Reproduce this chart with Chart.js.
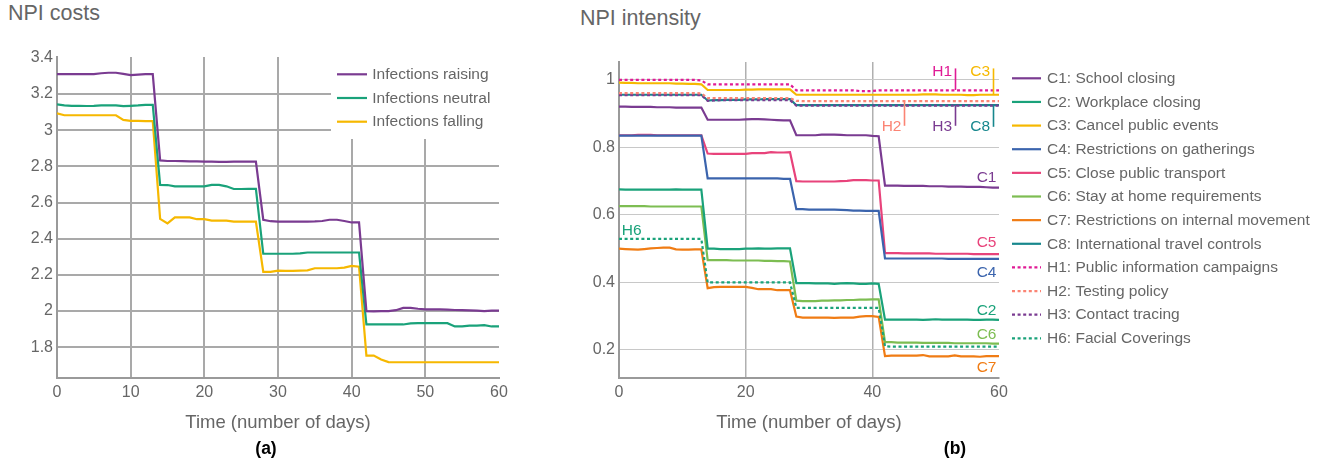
<!DOCTYPE html>
<html><head><meta charset="utf-8">
<script src="https://cdn.jsdelivr.net/npm/chart.js@4.4.0/dist/chart.umd.min.js"></script>
<style>
html,body{margin:0;padding:0;background:#fff;width:1326px;height:474px;overflow:hidden;font-family:Arial,"Liberation Sans",sans-serif}
canvas{position:absolute;top:0}
#costs{left:0}
#intensity{left:560px}
.ttl{position:absolute;font-size:21.5px;line-height:21.5px;color:#666;white-space:nowrap}
.sub{position:absolute;font-size:17.5px;line-height:17.5px;font-weight:bold;color:#000;transform:translateX(-50%)}
</style></head><body>
<div class="ttl" style="left:8px;top:3px">NPI costs</div>
<div class="ttl" style="left:580px;top:8px">NPI intensity</div>
<canvas id="costs" width="560" height="474"></canvas>
<canvas id="intensity" width="766" height="474"></canvas>
<div class="sub" style="left:266px;top:440px">(a)</div>
<div class="sub" style="left:955px;top:440px">(b)</div>
<script>
/* ========== data ========= */
const days = [0,1,2,3,4,5,6,7,8,9,10,11,12,13,14,15,16,17,18,19,20,21,22,23,24,25,26,27,28,29,30,
  31,32,33,34,35,36,37,38,39,40,41,42,43,44,45,46,47,48,49,50,51,52,53,54,55,56,57,58,59,60];
const costTicksX = [0,10,20,30,40,50,60];
const costTicksY = [1.8,2,2.2,2.4,2.6,2.8,3,3.2,3.4];
const intTicksX = [0,20,40,60];
const intTicksY = [0.2,0.4,0.6,0.8,1];

// (a) NPI costs
const costNames = ["Infections raising","Infections neutral","Infections falling"];
const costRaising = [3.31,3.31,3.31,3.31,3.31,3.31,3.315,3.318,3.318,3.312,3.305,3.308,3.31,3.31,
  2.833,2.83,2.83,2.829,2.828,2.828,2.827,2.826,2.825,2.825,2.826,2.826,2.826,2.826,
  2.505,2.497,2.495,2.495,2.495,2.495,2.495,2.496,2.498,2.505,2.505,2.498,2.49,2.49,
  2.0,1.998,2.0,2.0,2.005,2.018,2.018,2.013,2.01,2.009,2.009,2.008,2.006,2.005,2.004,2.003,2.0,2.003,2.003];
const costNeutral = [3.143,3.138,3.135,3.135,3.134,3.135,3.138,3.138,3.138,3.133,3.135,3.137,3.14,3.14,
  2.698,2.697,2.69,2.69,2.69,2.69,2.69,2.698,2.698,2.69,2.675,2.675,2.676,2.676,
  2.317,2.317,2.317,2.317,2.317,2.319,2.324,2.324,2.324,2.324,2.324,2.324,2.324,2.324,
  1.926,1.926,1.926,1.926,1.926,1.926,1.932,1.933,1.933,1.933,1.933,1.933,1.915,1.915,1.92,1.92,1.922,1.915,1.915];
const costFalling = [3.093,3.083,3.083,3.083,3.083,3.083,3.083,3.083,3.083,3.057,3.052,3.052,3.05,3.05,
  2.51,2.485,2.518,2.518,2.518,2.508,2.508,2.5,2.5,2.5,2.495,2.495,2.495,2.495,
  2.217,2.217,2.224,2.222,2.222,2.224,2.225,2.237,2.237,2.237,2.237,2.24,2.25,2.245,
  1.754,1.754,1.732,1.718,1.717,1.717,1.717,1.717,1.717,1.717,1.717,1.717,1.717,1.717,1.717,1.717,1.717,1.717,1.717];

// (b) NPI intensity
const npiNames = ["C1: School closing","C2: Workplace closing","C3: Cancel public events","C4: Restrictions on gatherings",
  "C5: Close public transport","C6: Stay at home requirements","C7: Restrictions on internal movement",
  "C8: International travel controls","H1: Public information campaigns","H2: Testing policy","H3: Contact tracing","H6: Facial Coverings"];
const c1 = [0.921,0.921,0.92,0.92,0.92,0.92,0.919,0.919,0.919,0.918,0.918,0.918,0.918,0.918,
  0.882,0.882,0.882,0.882,0.882,0.882,0.883,0.884,0.884,0.883,0.882,0.881,0.88,0.88,
  0.836,0.836,0.836,0.836,0.838,0.838,0.838,0.837,0.836,0.836,0.836,0.836,0.834,0.833,
  0.687,0.687,0.687,0.686,0.686,0.686,0.686,0.685,0.685,0.685,0.684,0.684,0.684,0.683,0.683,0.683,0.682,0.681,0.681];
const c2 = [0.676,0.675,0.675,0.675,0.675,0.675,0.675,0.675,0.675,0.676,0.675,0.675,0.675,0.675,
  0.5,0.5,0.499,0.499,0.499,0.499,0.5,0.5,0.501,0.5,0.5,0.501,0.501,0.501,
  0.398,0.398,0.398,0.397,0.397,0.397,0.396,0.397,0.398,0.397,0.396,0.396,0.397,0.396,
  0.29,0.29,0.29,0.29,0.29,0.29,0.289,0.29,0.291,0.29,0.29,0.29,0.29,0.29,0.289,0.289,0.29,0.29,0.289];
const c3 = [0.992,0.991,0.991,0.99,0.99,0.99,0.99,0.99,0.99,0.989,0.989,0.988,0.988,0.987,
  0.97,0.97,0.97,0.97,0.97,0.97,0.971,0.971,0.972,0.972,0.972,0.972,0.972,0.972,
  0.956,0.956,0.956,0.956,0.956,0.956,0.956,0.956,0.956,0.956,0.956,0.956,0.956,0.956,
  0.956,0.956,0.956,0.956,0.956,0.956,0.957,0.957,0.957,0.956,0.956,0.956,0.956,0.955,0.955,0.956,0.956,0.956,0.956];
const c4 = [0.835,0.835,0.835,0.835,0.835,0.835,0.835,0.835,0.835,0.835,0.835,0.835,0.835,0.835,
  0.708,0.708,0.708,0.708,0.708,0.708,0.708,0.708,0.708,0.708,0.708,0.708,0.707,0.707,
  0.617,0.617,0.616,0.616,0.616,0.616,0.616,0.615,0.614,0.613,0.613,0.612,0.612,0.612,
  0.471,0.471,0.471,0.471,0.471,0.471,0.471,0.471,0.471,0.471,0.47,0.47,0.47,0.47,0.47,0.47,0.47,0.47,0.47];
const c5 = [0.836,0.836,0.836,0.837,0.837,0.837,0.836,0.836,0.836,0.836,0.836,0.836,0.836,0.836,
  0.782,0.781,0.781,0.781,0.781,0.781,0.781,0.783,0.783,0.783,0.786,0.785,0.785,0.786,
  0.7,0.699,0.699,0.699,0.699,0.699,0.699,0.7,0.701,0.703,0.703,0.703,0.702,0.702,
  0.487,0.487,0.487,0.486,0.486,0.486,0.486,0.486,0.485,0.485,0.485,0.485,0.485,0.485,0.484,0.484,0.484,0.484,0.484];
const c6 = [0.626,0.626,0.626,0.626,0.626,0.625,0.625,0.625,0.625,0.625,0.625,0.625,0.625,0.625,
  0.466,0.466,0.466,0.466,0.465,0.465,0.465,0.465,0.465,0.464,0.464,0.463,0.463,0.462,
  0.346,0.345,0.345,0.345,0.346,0.346,0.347,0.347,0.348,0.348,0.349,0.349,0.35,0.35,
  0.223,0.223,0.222,0.222,0.222,0.222,0.221,0.221,0.221,0.221,0.221,0.22,0.22,0.22,0.22,0.22,0.22,0.219,0.219];
const c7 = [0.5,0.499,0.498,0.497,0.499,0.501,0.502,0.503,0.503,0.498,0.497,0.497,0.498,0.498,
  0.383,0.386,0.387,0.387,0.387,0.387,0.387,0.384,0.38,0.38,0.38,0.377,0.377,0.377,
  0.299,0.296,0.296,0.296,0.296,0.296,0.295,0.296,0.296,0.296,0.299,0.3,0.3,0.298,
  0.182,0.183,0.183,0.183,0.183,0.183,0.185,0.181,0.181,0.181,0.181,0.184,0.181,0.181,0.181,0.18,0.182,0.182,0.182];
const c8 = [0.956,0.956,0.956,0.956,0.956,0.956,0.956,0.956,0.956,0.956,0.956,0.956,0.956,0.956,
  0.939,0.94,0.94,0.941,0.941,0.941,0.942,0.942,0.942,0.943,0.943,0.943,0.943,0.943,
  0.925,0.925,0.925,0.925,0.925,0.925,0.925,0.925,0.925,0.925,0.925,0.925,0.925,0.925,
  0.925,0.925,0.925,0.925,0.925,0.925,0.925,0.925,0.925,0.925,0.925,0.925,0.925,0.925,0.925,0.925,0.925,0.925,0.925];
const h1 = [1,1,1,1,1,1,1,1,1,1,1,1,1,0.998,
  0.987,0.987,0.987,0.987,0.987,0.987,0.987,0.987,0.987,0.987,0.987,0.987,0.987,0.987,
  0.969,0.969,0.969,0.969,0.969,0.969,0.969,0.969,0.969,0.969,0.967,0.967,0.967,0.969,
  0.969,0.969,0.969,0.969,0.969,0.969,0.969,0.969,0.969,0.969,0.969,0.969,0.969,0.969,0.969,0.969,0.969,0.969,0.969];
const h2 = [0.961,0.961,0.961,0.961,0.961,0.961,0.961,0.961,0.961,0.961,0.961,0.961,0.961,0.96,
  0.946,0.946,0.946,0.946,0.946,0.946,0.946,0.946,0.946,0.946,0.946,0.946,0.946,0.946,
  0.938,0.937,0.937,0.937,0.937,0.937,0.937,0.937,0.937,0.937,0.937,0.937,0.937,0.937,
  0.937,0.937,0.937,0.937,0.937,0.937,0.937,0.937,0.937,0.937,0.937,0.937,0.937,0.937,0.937,0.937,0.937,0.937,0.937];
const h3 = [0.955,0.955,0.955,0.955,0.955,0.955,0.955,0.955,0.955,0.955,0.955,0.955,0.955,0.955,
  0.938,0.939,0.94,0.94,0.94,0.94,0.94,0.94,0.94,0.94,0.94,0.94,0.94,0.94,
  0.924,0.924,0.924,0.924,0.924,0.924,0.924,0.924,0.924,0.924,0.924,0.924,0.924,0.924,
  0.924,0.924,0.924,0.924,0.924,0.924,0.924,0.924,0.924,0.924,0.924,0.924,0.924,0.924,0.924,0.924,0.924,0.924,0.924];
const h6 = [0.529,0.529,0.529,0.529,0.529,0.529,0.529,0.529,0.529,0.529,0.529,0.529,0.529,0.529,
  0.4,0.4,0.4,0.4,0.4,0.4,0.4,0.4,0.4,0.4,0.4,0.4,0.4,0.4,
  0.325,0.325,0.325,0.325,0.325,0.325,0.325,0.325,0.325,0.325,0.325,0.325,0.325,0.325,
  0.211,0.21,0.21,0.21,0.21,0.21,0.21,0.21,0.21,0.21,0.21,0.21,0.21,0.21,0.21,0.21,0.21,0.21,0.21];

/* ========== styles ========= */
const $ = id => document.getElementById(id);
const FONT = 'Arial, "Liberation Sans", sans-serif';
Chart.defaults.font.family = FONT;
Chart.defaults.color = "#666";
const PURPLE="#7a3b91", GREEN="#1aa27a", YELLOW="#f6b800";
const costColors = [PURPLE, GREEN, YELLOW];
const npiColors = [PURPLE, GREEN, YELLOW, "#3b64ad", "#e8437b", "#7dbd52", "#f07c14", "#17878d", "#e01a95", "#fb8474", PURPLE, GREEN];
const npiSeries = [c1,c2,c3,c4,c5,c6,c7,c8,h1,h2,h3,h6];
const dotted = n => n.startsWith("H");
const fmt = v => String(+v.toFixed(2));
const pts = arr => arr.map((v,i)=>({x:days[i],y:v}));
const hide = "rgba(0,0,0,0)";

/* ========== plugins ========= */
const costLegend = {
  id:"costLegend",
  beforeDatasetsDraw(chart){
    const {ctx, chartArea:a} = chart;
    ctx.save();
    ctx.fillStyle="#fff"; ctx.fillRect(331, a.top, a.right-331+1, 82);
    ctx.font="15.5px "+FONT; ctx.textBaseline="middle";
    costNames.forEach((n,i)=>{
      const y = 74.3 + i*23.7;
      ctx.strokeStyle=costColors[i]; ctx.lineWidth=2.2;
      ctx.beginPath(); ctx.moveTo(337,y); ctx.lineTo(367,y); ctx.stroke();
      ctx.fillStyle="#666"; ctx.fillText(n, 372.3, y+0.5);
    });
    ctx.restore();
  }
};
const npiLegend = {
  id:"npiLegend",
  afterDraw(chart){
    const {ctx, chartArea:a} = chart;
    ctx.save();
    ctx.font="15.5px "+FONT; ctx.textBaseline="middle";
    npiNames.forEach((n,i)=>{
      const y = 78.3 + i*23.64, x0 = a.right+13;
      ctx.strokeStyle=npiColors[i]; ctx.lineWidth=2.2;
      ctx.setLineDash(dotted(n)?[3,2.6]:[]);
      ctx.beginPath(); ctx.moveTo(x0,y); ctx.lineTo(x0+29,y); ctx.stroke();
      ctx.fillStyle="#666"; ctx.fillText(n, x0+35, y+0.5);
    });
    ctx.restore();
  }
};
// series tags inside (b): text, day, value, align, colour, [tick day, from, to]
const tags = [
  ["H1",52.6,1.025,"right",npiColors[8],[53.05,1.034,0.970]],
  ["C3",58.6,1.025,"right",npiColors[2],[59,1.034,0.956]],
  ["H2",44.6,0.864,"right",npiColors[9],[45,0.936,0.864]],
  ["H3",52.6,0.864,"right",PURPLE,[53.05,0.926,0.864]],
  ["C8",58.6,0.864,"right",npiColors[7],[59,0.926,0.861]],
  ["C1",59.6,0.712,"right",PURPLE],
  ["C5",59.6,0.520,"right",npiColors[4]],
  ["C4",59.6,0.429,"right",npiColors[3]],
  ["C2",59.6,0.319,"right",GREEN],
  ["C6",59.6,0.248,"right",npiColors[5]],
  ["C7",59.6,0.148,"right",npiColors[6]],
  ["H6",0.45,0.555,"left",GREEN]
];
const npiTags = {
  id:"npiTags",
  afterDatasetsDraw(chart){
    const {ctx, scales:{x,y}} = chart;
    ctx.save();
    ctx.font="15.5px "+FONT; ctx.textBaseline="middle";
    tags.forEach(([t,d,v,al,col,tick])=>{
      ctx.fillStyle=col; ctx.textAlign=al;
      ctx.fillText(t, x.getPixelForValue(d), y.getPixelForValue(v)+0.5);
      if(tick){
        ctx.strokeStyle=col; ctx.lineWidth=1.6;
        const tx=Math.round(x.getPixelForValue(tick[0]))+0.5;
        ctx.beginPath(); ctx.moveTo(tx,y.getPixelForValue(tick[1])); ctx.lineTo(tx,y.getPixelForValue(tick[2])); ctx.stroke();
      }
    });
    ctx.restore();
  }
};

/* ========== charts ========= */
function axes(ticksX, ticksY, yMin, yMax, yWidth, g){
  return {
    x:{type:"linear",min:0,max:60,
      afterBuildTicks:s=>{s.ticks=ticksX.map(v=>({value:v}));},
      afterFit:s=>{s.height=56;},
      ticks:{padding:5,font:{size:16},color:"#666",maxRotation:0,callback:fmt},
      grid:{drawTicks:false,color:c=>c.tick&&c.tick.value===60?hide:g.vc,lineWidth:g.vw},
      border:{color:"#9a9a9a",width:2},
      title:{display:true,text:"Time (number of days)",font:{size:18.5},color:"#666",padding:0}},
    y:{min:yMin,max:yMax,
      afterBuildTicks:s=>{s.ticks=ticksY.map(v=>({value:v}));},
      afterFit:s=>{s.width=yWidth;},
      ticks:{padding:4,font:{size:16},color:"#666",callback:fmt},
      grid:{drawTicks:false,color:c=>c.tick&&c.tick.value===3.4?hide:g.hc,lineWidth:g.hw},
      border:{color:"#9a9a9a",width:2}}
  };
}
const common = {responsive:false,animation:false,devicePixelRatio:1,
  plugins:{legend:{display:false},tooltip:{enabled:false}},
  elements:{point:{radius:0},line:{tension:0,borderWidth:2.2}}};

new Chart($("costs"),{
  type:"line",
  data:{datasets:costNames.map((n,i)=>({label:n,data:pts([costRaising,costNeutral,costFalling][i]),borderColor:costColors[i]}))},
  options:{...common,
    layout:{padding:{top:57,right:61,left:0,bottom:40}},
    scales:axes(costTicksX,costTicksY,1.63,3.405,57,{vc:"#a9a9a9",vw:2,hc:"#a9a9a9",hw:2})},
  plugins:[costLegend]
});

new Chart($("intensity"),{
  type:"line",
  data:{datasets:npiNames.map((n,i)=>({label:n,data:pts(npiSeries[i]),borderColor:npiColors[i],
    borderDash:dotted(n)?[3,2.6]:[],order:dotted(n)?0:1}))},
  options:{...common,
    layout:{padding:{top:62,right:327,left:0,bottom:40}},
    scales:axes(intTicksX,intTicksY,0.117,1.053,59,{vc:"#b0b0b0",vw:1.5,hc:"#c8c8c8",hw:1})},
  plugins:[npiTags,npiLegend]
});
</script>
</body></html>
